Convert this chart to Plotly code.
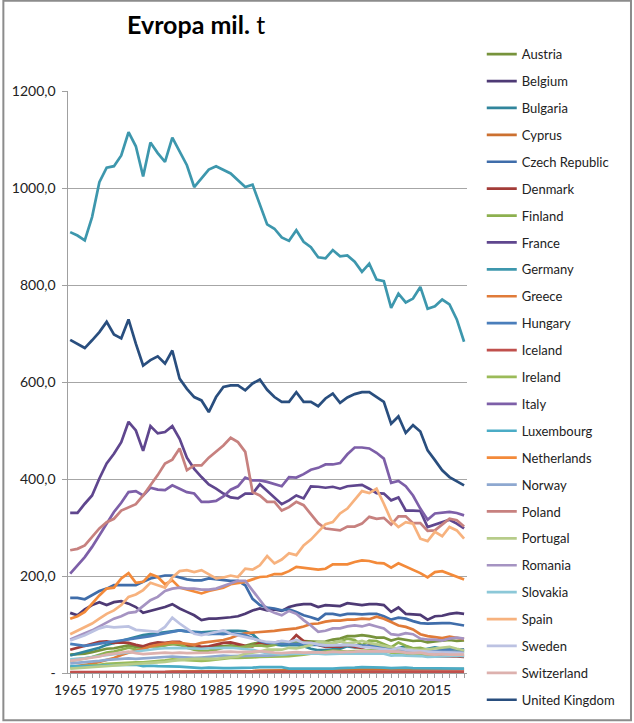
import plotly.graph_objects as go

years = list(range(1965, 2020))

austria = [38, 39, 40, 43, 46, 50, 51, 54, 57, 54,
           52, 57, 55, 58, 60, 58, 55, 52, 52, 54,
           55, 55, 57, 55, 56, 60, 63, 59, 59, 60,
           63, 66, 66, 65, 64, 65, 69, 71, 76, 76,
           78, 76, 73, 73, 67, 71, 69, 66, 67, 63,
           65, 66, 68, 66, 67]
belgium = [124, 119, 131, 140, 146, 140, 146, 148, 143, 136,
           124, 128, 131, 136, 142, 133, 126, 119, 109, 112,
           112, 113, 115, 117, 122, 129, 133, 129, 131, 128,
           136, 140, 142, 142, 136, 140, 139, 138, 144, 142,
           140, 142, 142, 140, 126, 135, 122, 121, 120, 110,
           117, 118, 122, 124, 122]
bulgaria = [36, 40, 44, 48, 52, 58, 62, 66, 70, 74,
            78, 80, 82, 85, 87, 88, 86, 85, 84, 85,
            86, 86, 87, 87, 86, 80, 66, 58, 59, 57,
            58, 58, 55, 50, 47, 47, 49, 50, 55, 53,
            54, 55, 58, 55, 48, 51, 55, 50, 47, 50,
            53, 50, 52, 48, 45]
cyprus = [1, 1, 1, 1, 1, 1, 1, 2, 2, 2,
          2, 2, 2, 2, 3, 3, 3, 3, 3, 3,
          3, 3, 4, 4, 4, 4, 5, 5, 5, 5,
          6, 6, 6, 6, 6, 7, 7, 7, 7, 8,
          8, 8, 8, 8, 8, 8, 8, 7, 7, 7,
          7, 7, 8, 8, 8]
czech = [155, 155, 152, 160, 169, 174, 181, 181, 181, 181,
         188, 195, 198, 201, 201, 197, 193, 191, 191, 195,
         193, 191, 190, 190, 181, 153, 140, 135, 133, 129,
         131, 126, 119, 115, 110, 122, 122, 119, 122, 122,
         121, 122, 122, 117, 110, 114, 112, 107, 103, 102,
         103, 103, 103, 100, 98]
denmark = [48, 52, 55, 60, 64, 65, 62, 63, 62, 58,
           55, 60, 63, 62, 64, 64, 57, 58, 54, 55,
           58, 62, 63, 60, 56, 55, 62, 60, 63, 65,
           62, 78, 66, 62, 59, 54, 55, 54, 58, 54,
           52, 57, 54, 53, 50, 51, 45, 41, 43, 37,
           34, 35, 35, 34, 33]
finland = [25, 27, 30, 33, 37, 42, 44, 48, 52, 49,
           48, 55, 55, 57, 60, 60, 52, 48, 45, 46,
           48, 52, 55, 53, 55, 56, 57, 55, 58, 63,
           60, 64, 63, 61, 59, 58, 62, 65, 71, 68,
           57, 67, 66, 60, 53, 63, 56, 51, 52, 48,
           44, 47, 45, 44, 42]
france = [330, 330, 349, 366, 401, 432, 452, 476, 518, 500,
          458, 509, 494, 497, 509, 483, 444, 421, 404, 389,
          380, 370, 362, 360, 370, 370, 389, 375, 360, 348,
          356, 366, 360, 385, 384, 382, 384, 380, 385, 387,
          388, 380, 371, 370, 356, 362, 335, 335, 334, 301,
          306, 311, 316, 308, 298]
germany = [909, 902, 892, 940, 1012, 1042, 1045, 1067, 1115, 1086,
           1024, 1094, 1072, 1054, 1104, 1076, 1047, 1002, 1019, 1038,
           1045, 1037, 1030, 1016, 1002, 1007, 968, 925, 916, 898,
           891, 913, 889, 878, 857, 855, 872, 859, 861, 848,
           827, 844, 811, 808, 753, 782, 764, 772, 796, 751,
           756, 770, 760, 729, 683]
greece = [12, 14, 16, 19, 23, 27, 31, 37, 42, 45,
          50, 55, 58, 60, 63, 62, 60, 58, 62, 64,
          66, 68, 72, 78, 82, 83, 84, 86, 87, 89,
          90, 92, 96, 101, 102, 106, 108, 108, 110, 110,
          112, 111, 116, 112, 105, 98, 95, 90, 80, 76,
          74, 72, 75, 73, 70]
hungary = [60, 58, 56, 58, 61, 63, 65, 67, 69, 71,
           73, 76, 79, 82, 86, 88, 86, 84, 82, 80,
           81, 80, 82, 80, 78, 72, 66, 62, 62, 60,
           60, 61, 60, 58, 58, 56, 58, 57, 59, 57,
           57, 56, 55, 53, 48, 49, 47, 45, 43, 42,
           45, 47, 48, 49, 49]
iceland = [2, 2, 2, 2, 2, 2, 2, 2, 2, 2,
           2, 2, 2, 2, 2, 2, 2, 2, 2, 2,
           2, 2, 2, 2, 2, 2, 2, 2, 2, 2,
           2, 2, 2, 3, 3, 3, 3, 3, 3, 3,
           3, 3, 3, 3, 3, 3, 3, 3, 3, 3,
           3, 3, 3, 3, 3]
ireland = [12, 13, 14, 15, 17, 19, 20, 21, 22, 22,
           22, 23, 24, 26, 28, 27, 26, 25, 25, 26,
           28, 30, 31, 31, 31, 32, 33, 33, 33, 34,
           35, 36, 38, 40, 42, 44, 46, 45, 44, 45,
           46, 47, 47, 46, 42, 41, 39, 38, 37, 37,
           38, 39, 40, 38, 37]
italy = [205, 222, 239, 260, 284, 309, 332, 351, 373, 375,
         366, 382, 378, 377, 387, 380, 373, 370, 353, 353,
         355, 364, 378, 385, 403, 397, 397, 394, 389, 385,
         404, 403, 410, 419, 423, 430, 430, 433, 451, 465,
         465, 463, 454, 442, 392, 396, 385, 366, 339, 316,
         329, 330, 332, 330, 325]
luxembourg = [14, 14, 14, 15, 15, 16, 16, 16, 17, 17,
              14, 15, 14, 14, 14, 13, 12, 11, 10, 11,
              10, 10, 10, 10, 11, 11, 12, 12, 12, 12,
              9, 9, 9, 8, 8, 9, 9, 10, 10, 11,
              12, 12, 11, 11, 10, 11, 11, 10, 10, 10,
              9, 9, 9, 9, 9]
netherlands = [112, 117, 126, 143, 160, 174, 176, 195, 206, 186,
               188, 204, 198, 183, 191, 176, 172, 167, 164, 169,
               172, 176, 183, 186, 188, 193, 198, 199, 204, 204,
               210, 219, 217, 215, 213, 215, 224, 224, 224, 229,
               232, 231, 227, 226, 217, 226, 219, 212, 206, 197,
               208, 210, 204, 198, 193]
norway = [20, 21, 22, 24, 25, 27, 28, 29, 30, 29,
          30, 32, 33, 33, 34, 33, 32, 31, 32, 33,
          34, 36, 35, 35, 36, 36, 35, 36, 37, 38,
          38, 40, 41, 40, 41, 40, 42, 41, 42, 42,
          43, 42, 44, 45, 44, 45, 44, 44, 44, 44,
          44, 43, 44, 43, 42]
poland = [253, 256, 263, 280, 298, 311, 318, 335, 342, 348,
          366, 387, 408, 432, 440, 463, 418, 428, 428, 444,
          456, 469, 485, 476, 456, 373, 366, 353, 353, 335,
          342, 353, 346, 327, 309, 298, 296, 294, 302, 302,
          308, 322, 318, 320, 306, 323, 323, 309, 309, 293,
          294, 307, 318, 315, 302]
portugal = [9, 10, 11, 12, 13, 15, 16, 17, 18, 19,
            19, 21, 22, 23, 25, 27, 28, 29, 29, 28,
            29, 31, 33, 34, 40, 42, 44, 48, 48, 48,
            52, 51, 54, 58, 64, 62, 61, 66, 61, 63,
            66, 62, 59, 57, 54, 50, 50, 48, 47, 49,
            51, 52, 54, 50, 47]
romania = [69, 76, 82, 88, 96, 105, 112, 117, 124, 126,
           138, 150, 157, 169, 174, 176, 174, 174, 172, 172,
           174, 179, 184, 190, 190, 171, 150, 131, 124, 119,
           128, 122, 109, 98, 85, 87, 92, 92, 96, 98,
           96, 100, 96, 92, 80, 78, 82, 80, 71, 69,
           69, 67, 71, 73, 71]
slovakia = [28, 29, 31, 33, 35, 37, 39, 41, 43, 45,
            47, 48, 50, 51, 52, 52, 51, 50, 50, 51,
            52, 52, 52, 51, 50, 48, 44, 41, 40, 38,
            40, 40, 41, 40, 40, 39, 40, 40, 40, 40,
            40, 40, 40, 40, 36, 37, 36, 36, 35, 33,
            33, 34, 35, 36, 35]
spain = [80, 87, 95, 102, 112, 122, 129, 140, 157, 162,
         171, 186, 181, 176, 197, 210, 212, 208, 212, 204,
         195, 197, 201, 198, 215, 213, 222, 241, 226, 234,
         247, 243, 263, 275, 291, 307, 311, 329, 339, 356,
         375, 371, 380, 349, 315, 301, 311, 308, 277, 272,
         291, 282, 301, 294, 277]
sweden = [67, 72, 78, 85, 92, 96, 94, 95, 96, 89,
          88, 87, 85, 95, 114, 102, 92, 81, 78, 81,
          85, 88, 81, 78, 74, 71, 67, 64, 63, 66,
          64, 68, 62, 62, 59, 57, 57, 58, 58, 57,
          54, 53, 51, 50, 47, 52, 48, 46, 45, 43,
          42, 42, 42, 41, 40]
switzerland = [25, 27, 29, 31, 34, 38, 40, 42, 44, 41,
               39, 40, 41, 42, 41, 42, 41, 41, 42, 42,
               43, 44, 44, 43, 43, 44, 45, 43, 42, 41,
               42, 43, 42, 43, 43, 42, 44, 43, 43, 44,
               45, 45, 44, 45, 44, 44, 42, 41, 42, 39,
               38, 39, 38, 38, 38]
uk = [687, 679, 670, 686, 703, 724, 698, 690, 729, 679,
      634, 645, 653, 638, 665, 607, 586, 569, 562, 538,
      569, 590, 593, 593, 583, 597, 605, 584, 569, 559,
      559, 579, 559, 559, 550, 566, 576, 557, 568, 575,
      579, 579, 569, 559, 514, 529, 495, 511, 498, 459,
      439, 418, 404, 396, 387]

countries = ["Austria", "Belgium", "Bulgaria", "Cyprus", "Czech Republic",
             "Denmark", "Finland", "France", "Germany", "Greece", "Hungary",
             "Iceland", "Ireland", "Italy", "Luxembourg", "Netherlands",
             "Norway", "Poland", "Portugal", "Romania", "Slovakia", "Spain",
             "Sweden", "Switzerland", "United Kingdom"]
series = [austria, belgium, bulgaria, cyprus, czech, denmark, finland, france,
          germany, greece, hungary, iceland, ireland, italy, luxembourg,
          netherlands, norway, poland, portugal, romania, slovakia, spain,
          sweden, switzerland, uk]

y_ticks = [0, 200, 400, 600, 800, 1000, 1200]
y_labels = ["-", "200,0", "400,0", "600,0", "800,0", "1000,0", "1200,0"]
x_ticks = years[::5]

colors = ["#77933C", "#4E3A75", "#31859C", "#CC7030", "#3F6DAA",
          "#A33C38", "#8DB04F", "#5F468E", "#3D97AD", "#E07B39",
          "#4A7EBB", "#C0504D", "#9BBB59", "#7D5FA8", "#4BACC6",
          "#F38A3A", "#8EA8D0", "#C7817F", "#B7CC8A", "#A593C2",
          "#8CC8D8", "#F7B27E", "#BCC2E2", "#DDB1AE", "#294E7E"]

fig = go.Figure()
for name, vals, col in zip(countries, series, colors):
    fig.add_trace(go.Scatter(x=years, y=vals, name=name, mode="lines",
                             legendgroup=name,
                             line=dict(color=col, width=2.7)))

fig.update_layout(
    width=634, height=723,
    margin=dict(l=66, r=167, t=91, b=50),
    paper_bgcolor="white", plot_bgcolor="white",
    font=dict(family="Lato", size=13, color="#222222"),
    showlegend=True,
    legend=dict(x=1.037, y=1.089, xanchor="left", yanchor="top",
                font=dict(size=13), tracegroupgap=7, itemwidth=30,
                maxheight=720),
)
fig.update_xaxes(range=[1964.7, 2019.4], tickvals=x_ticks,
                 ticks="outside", ticklen=4, tickcolor="#A0A0A0",
                 minor=dict(dtick=1, ticks="outside", ticklen=4, tickcolor="#A0A0A0"),
                 showline=True, linecolor="#A0A0A0", linewidth=1,
                 showgrid=False, zeroline=False, tickfont=dict(size=14))
fig.update_yaxes(range=[0, 1200], tickvals=y_ticks,
                 ticktext=[t + "\u00a0" for t in y_labels],
                 ticks="outside", ticklen=5, tickcolor="#A0A0A0",
                 showline=True, linecolor="#A0A0A0", linewidth=1,
                 showgrid=True, gridcolor="#A6A6A6", zeroline=False,
                 tickfont=dict(size=14))

fig.add_annotation(text="<b>Evropa mil.</b> t", xref="paper", yref="paper",
                   x=0.322, y=1.115, xanchor="center", yanchor="middle",
                   showarrow=False, font=dict(size=25, color="black"))
fig.add_shape(type="rect", xref="paper", yref="paper",
              x0=-0.162, x1=1.411, y0=-0.081, y1=1.155,
              line=dict(color="#8C8C8C", width=2))

fig.write_html("out.html", config={"displayModeBar": False},
               post_script="document.body.style.margin='0px';")
